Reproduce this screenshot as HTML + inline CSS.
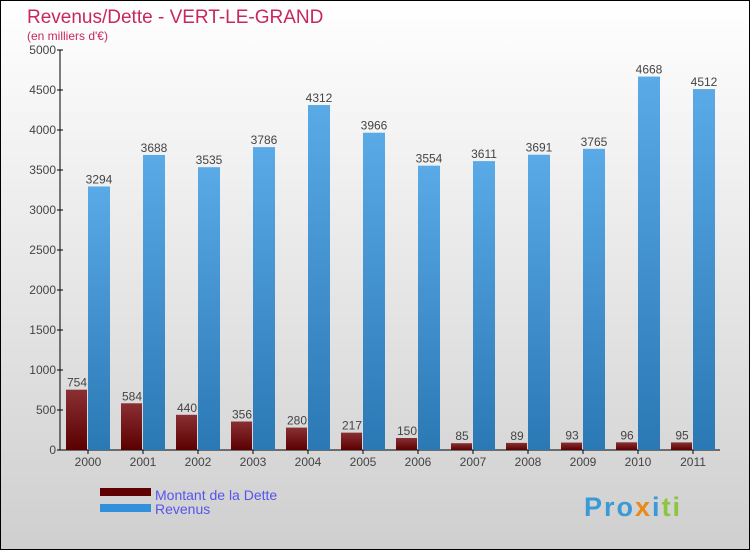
<!DOCTYPE html>
<html><head><meta charset="utf-8"><style>
body{margin:0;width:750px;height:550px;overflow:hidden;font-family:"Liberation Sans",sans-serif}
</style></head><body>
<svg width="750" height="550" xmlns="http://www.w3.org/2000/svg">
<defs>
<linearGradient id="bg" x1="0" y1="0" x2="0" y2="1"><stop offset="0" stop-color="#ffffff"/><stop offset="1" stop-color="#cfcfcf"/></linearGradient>
<linearGradient id="gr" x1="0" y1="0" x2="0" y2="1"><stop offset="0" stop-color="#8a3034"/><stop offset="1" stop-color="#5a0000"/></linearGradient>
<linearGradient id="gb" x1="0" y1="0" x2="0" y2="1"><stop offset="0" stop-color="#5aaae8"/><stop offset="1" stop-color="#2a78b4"/></linearGradient>
</defs>
<rect x="0.5" y="0.5" width="749" height="549" fill="url(#bg)" stroke="#000"/>
<text x="27" y="23" font-size="19" fill="#c8285a">Revenus/Dette - VERT-LE-GRAND</text>
<text x="27" y="40" font-size="12" fill="#c8285a">(en milliers d'€)</text>
<g id="axes"></g>
<g id="bars"></g>
<rect x="100" y="488" width="51" height="8" fill="#600000"/>
<text x="155" y="500" font-size="14" fill="#5555ee">Montant de la Dette</text>
<rect x="100" y="504" width="51" height="8" fill="#3090dc"/>
<text x="155" y="514" font-size="14" fill="#5555ee">Revenus</text>
<text x="584" y="516" font-size="27" font-weight="bold" letter-spacing="2" fill="#3a9ad8"><tspan fill="#3a9ad8">Pro</tspan><tspan fill="#e88a1a">x</tspan><tspan fill="#3a9ad8">i</tspan><tspan fill="#8cc63e">ti</tspan></text>
</svg>
<script>
const years=["2000","2001","2002","2003","2004","2005","2006","2007","2008","2009","2010","2011"];
const dette=[754,584,440,356,280,217,150,85,89,93,96,95];
const revenus=[3294,3688,3535,3786,4312,3966,3554,3611,3691,3765,4668,4512];
const yTicks=[0,500,1000,1500,2000,2500,3000,3500,4000,4500,5000];
const NS="http://www.w3.org/2000/svg";
const y0=450,yTop=50,yMax=5000,x0=60,step=55;
const y=v=>y0-(v/yMax)*(y0-yTop);
const cx=i=>x0+28+i*step;
function mk(t,a,p){const e=document.createElementNS(NS,t);for(const k in a)e.setAttribute(k,a[k]);p.appendChild(e);return e;}
const ax=document.getElementById('axes'),bars=document.getElementById('bars');
const yl=mk('line',{x1:x0,y1:yTop,x2:x0,y2:y0,stroke:'#000'},ax);


const xl=mk('line',{x1:x0,y1:y0,x2:x0+step*12,y2:y0,stroke:'#000'},ax);


yTicks.forEach(v=>{
 mk('line',{x1:x0-3,x2:x0+3,y1:y(v),y2:y(v),stroke:'#000'},ax);
 const t=mk('text',{x:x0-4,y:y(v)+4,'font-size':12,'text-anchor':'end',fill:'#444'},ax);t.textContent=v;
 
 
});
years.forEach((yr,i)=>{
 const c=cx(i);
 mk('line',{x1:c,x2:c,y1:y0,y2:y0+4,stroke:'#000'},ax);
 const t=mk('text',{x:c,y:y0+16,'font-size':12,'text-anchor':'middle',fill:'#444'},ax);t.textContent=yr;
 
 
 const b1=mk('rect',{x:c-22,y:y(dette[i]),width:21,height:y0-y(dette[i]),fill:'url(#gr)'},bars);
 
 
 const b2=mk('rect',{x:c,y:y(revenus[i]),width:22,height:y0-y(revenus[i]),fill:'url(#gb)'},bars);
 
 
 const l1=mk('text',{x:c-11,y:y(dette[i])-3,'font-size':12,'text-anchor':'middle',fill:'#444'},bars);l1.textContent=dette[i];
 
 
 const l2=mk('text',{x:c+11,y:y(revenus[i])-3,'font-size':12,'text-anchor':'middle',fill:'#444'},bars);l2.textContent=revenus[i];
 
 
});
</script>
</body></html>
